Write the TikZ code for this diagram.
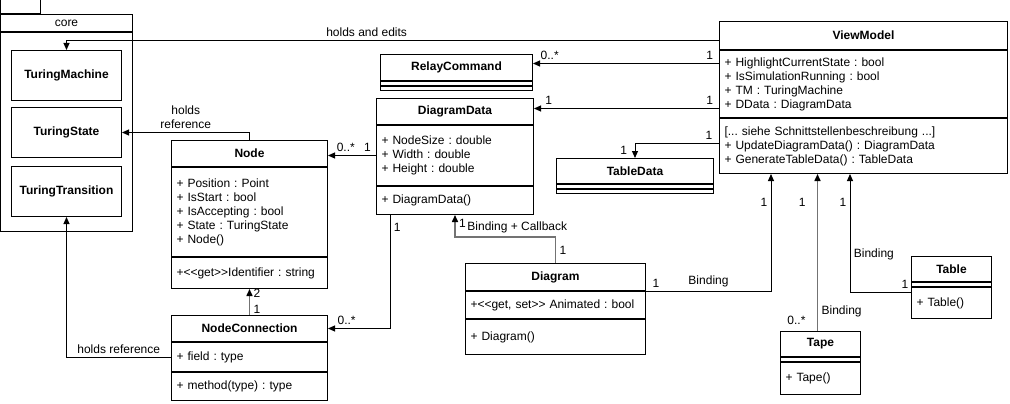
\documentclass[tikz,border=0pt]{standalone}
\usepackage{fontspec}
\setmainfont{Liberation Sans}
\usetikzlibrary{arrows.meta, positioning}
\frenchspacing

\begin{document}
\begin{tikzpicture}[
    x=1pt, y=-1pt,
    font=\fontsize{12}{14}\selectfont,
    pkgpart/.style={rectangle, draw=black, line width=1pt, inner sep=0pt, minimum width=132pt},
    corebox/.style={rectangle, draw=black, line width=1pt, minimum width=110pt, minimum height=50pt, anchor=north west, font=\fontsize{12}{14}\selectfont\bfseries},
    classhead/.style={rectangle, draw=black, line width=1pt, inner sep=0pt, font=\fontsize{12}{14}\selectfont\bfseries},
    classpart/.style={rectangle, draw=black, line width=1pt, inner xsep=5pt, inner ysep=0pt, align=left},
    arrow/.style={-{Triangle[length=7pt, width=6pt]}, line width=1pt, black},
    grayarrow/.style={-{Triangle[length=7pt, width=6pt, color=black]}, line width=1.5pt, black!55},
    mult/.style={font=\fontsize{12}{14}\selectfont, text=black}
]
\useasboundingbox (0,0) rectangle (1010,404);

% === Package core ===
\node[pkgpart, minimum height=17pt, anchor=north west] (corehead) at (0,14) {core};
\node[pkgpart, minimum width=40pt, minimum height=14pt, anchor=south west] (coretab) at (corehead.north west) {};
\node[pkgpart, minimum height=199pt, below=0pt of corehead] (corebody) {};
\node[corebox] (tm) at (11,50) {TuringMachine};
\node[corebox] (ts) at (11,107) {TuringState};
\node[corebox] (tt) at (11,166) {TuringTransition};

% === ViewModel ===
\node[classhead, minimum width=288pt, minimum height=28pt, anchor=north west] (vmhead) at (719,21) {ViewModel};
\node[classpart, text width=278pt, minimum height=67pt, below=0pt of vmhead] (vmattr) {+ HighlightCurrentState : bool\\+ IsSimulationRunning : bool\\+ TM : TuringMachine\\+ DData : DiagramData};
\node[classpart, text width=278pt, minimum height=55pt, below=0pt of vmattr] (vmmeth) {{[... siehe Schnittstellenbeschreibung ...]}\\+ UpdateDiagramData() : DiagramData\\+ GenerateTableData() : TableData};

% === RelayCommand, DiagramData, TableData ===
\node[classhead, minimum width=152pt, minimum height=26pt, anchor=north west] (rchead) at (380,54) {RelayCommand};
\node[classpart, minimum width=152pt, minimum height=4pt, below=0pt of rchead] (rcattr) {};
\node[classpart, minimum width=152pt, minimum height=4pt, below=0pt of rcattr] (rcmeth) {};

\node[classhead, minimum width=157pt, minimum height=26pt, anchor=north west] (ddhead) at (376,98) {DiagramData};
\node[classpart, text width=147pt, minimum height=60pt, below=0pt of ddhead] (ddattr) {+ NodeSize : double\\+ Width : double\\+ Height : double};
\node[classpart, text width=147pt, minimum height=28pt, below=0pt of ddattr] (ddmeth) {+ DiagramData()};

\node[classhead, minimum width=157pt, minimum height=25pt, anchor=north west] (tdhead) at (556,158) {TableData};
\node[classpart, minimum width=157pt, minimum height=4pt, below=0pt of tdhead] (tdattr) {};
\node[classpart, minimum width=157pt, minimum height=4pt, below=0pt of tdattr] (tdmeth) {};

% === Node, NodeConnection ===
\node[classhead, minimum width=156pt, minimum height=26pt, anchor=north west] (nodehead) at (171,140) {Node};
\node[classpart, text width=146pt, minimum height=89pt, below=0pt of nodehead] (nodeattr) {+ Position : Point\\+ IsStart : bool\\+ IsAccepting : bool\\+ State : TuringState\\+ Node()};
\node[classpart, text width=146pt, minimum height=31pt, below=0pt of nodeattr] (nodemeth) {+<{}<get>{}>Identifier : string};

\node[classhead, minimum width=156pt, minimum height=26pt, anchor=north west] (nchead) at (171,315) {NodeConnection};
\node[classpart, text width=146pt, minimum height=29pt, below=0pt of nchead] (ncattr) {+ field : type};
\node[classpart, text width=146pt, minimum height=28pt, below=0pt of ncattr] (ncmeth) {+ method(type) : type};

% === Diagram, Tape, Table ===
\node[classhead, minimum width=180pt, minimum height=27pt, anchor=north west] (dghead) at (465,263) {Diagram};
\node[classpart, text width=170pt, minimum height=27pt, below=0pt of dghead] (dgattr) {+<{}<get, set>{}> Animated : bool};
\node[classpart, text width=170pt, minimum height=35pt, below=0pt of dgattr] (dgmeth) {+ Diagram()};

\node[classhead, minimum width=80pt, minimum height=25pt, anchor=north west] (tapehead) at (780,331) {Tape};
\node[classpart, minimum width=80pt, minimum height=4pt, below=0pt of tapehead] (tapeattr) {};
\node[classpart, text width=70pt, minimum height=32pt, below=0pt of tapeattr] (tapemeth) {+ Tape()};

\node[classhead, minimum width=80pt, minimum height=25pt, anchor=north west] (tbhead) at (911,256) {Table};
\node[classpart, minimum width=80pt, minimum height=4pt, below=0pt of tbhead] (tbattr) {};
\node[classpart, text width=70pt, minimum height=31pt, below=0pt of tbattr] (tbmeth) {+ Table()};

% === Connectors from ViewModel ===
\coordinate (rcin) at ([yshift=4pt]rchead.east);
\coordinate (ddin) at ([yshift=3pt]ddhead.east);
\coordinate (tdout) at ([yshift=3pt]vmmeth.west);
\draw[arrow] ([yshift=-5pt]vmhead.west) -| node[pos=0.27, above] {holds and edits} (tm.north);
\draw[arrow] (vmattr.west |- rcin) -- node[mult, pos=0.05, above] {1} node[mult, pos=0.91, above] {0..*} (rcin);
\draw[arrow] (vmattr.west |- ddin) -- node[mult, pos=0.05, above] {1} node[mult, pos=0.92, above] {1} (ddin);
\draw[arrow] (tdout) -| node[mult, pos=0.06, above] {1} node[mult, pos=0.75, left, xshift=-4pt] {1} (tdhead.north);

% === Connectors of the diagram classes ===
\draw[arrow] (ddattr.west) -- node[mult, pos=0.18, above] {1} node[mult, pos=0.63, above] {0..*} (ddattr.west -| nodehead.east);
\draw[arrow] (nodehead.north) |- node[pos=0.75, above, align=center] {holds\\reference} (ts.east);
\draw[grayarrow] (nchead.north) -- node[mult, pos=0.2, right] {1} node[mult, pos=0.85, right] {2} (nodemeth.south);
\draw[arrow] ([xshift=14pt]ddmeth.south west) |- node[mult, pos=0.055, right] {1} node[mult, pos=0.85, above] {0..*} (nchead.east);
\draw[arrow] (ncattr.west) -| node[pos=0.25, above] {holds reference} (tt.south);

% === Bindings ===
\draw[grayarrow] (dghead.north) -- node[mult, right] {1} ++(0,-26) -| node[pos=0.19, above, text=black] {Binding + Callback} node[mult, pos=0.8, right] {1} (ddmeth.south);
\draw[arrow] (dgattr.north east) -| node[mult, pos=0.04, above] {1} node[pos=0.25, above] {Binding} node[mult, pos=0.88, left] {1} ([xshift=52pt]vmmeth.south west);
\draw[grayarrow] ([xshift=-3pt]tapehead.north) -- node[mult, pos=0.07, left, xshift=-8pt] {0..*} node[pos=0.125, right, text=black] {Binding} node[mult, pos=0.82, left, xshift=-8pt] {1} ([xshift=-3pt]tapehead.north |- vmmeth.south);
\coordinate (tbout) at ([yshift=-5pt]tbmeth.north west);
\draw[arrow] (tbout) -| node[mult, pos=0.05, above] {1} node[pos=0.66, right] {Binding} node[mult, pos=0.88, left] {1} ([xshift=131pt]vmmeth.south west);

\end{tikzpicture}
\end{document}
